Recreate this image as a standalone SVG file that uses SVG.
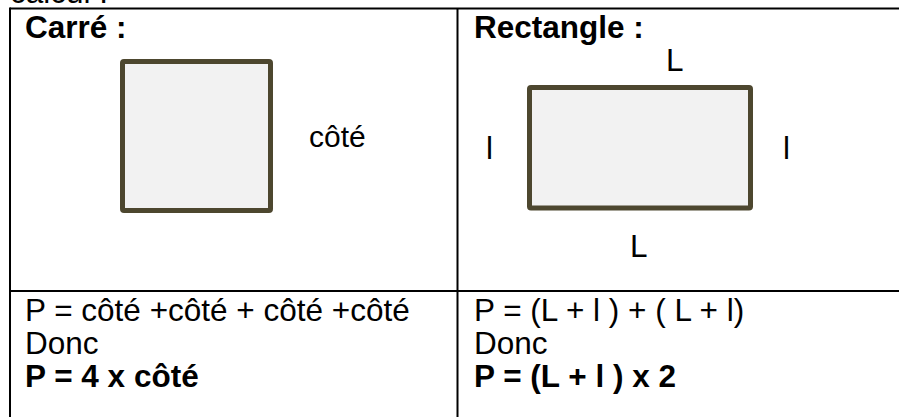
<svg xmlns="http://www.w3.org/2000/svg" width="899" height="417" viewBox="0 0 899 417">
  <style>
    text { font-family: "Liberation Sans", Arial, sans-serif; font-size: 31.5px; fill: #000; }
    .b { font-weight: bold; }
    .lbl { font-size: 30px; }
    .grid { stroke: #000; stroke-width: 2; fill: none; }
    .shape { fill: #f2f2f2; stroke: #4d472f; stroke-width: 5; }
  </style>
  <rect x="0" y="0" width="899" height="417" fill="#fff"/>
  <text x="10" y="3">calcul :</text>
  <g id="table-lines" class="grid">
    <line x1="10" y1="8.5" x2="899" y2="8.5"/>
    <line x1="10" y1="7.5" x2="10" y2="417"/>
    <line x1="457.5" y1="8.5" x2="457.5" y2="417"/>
    <line x1="10" y1="291" x2="899" y2="291"/>
  </g>
  <g id="carre">
    <text class="b" x="25" y="38">Carré :</text>
    <rect class="shape" x="122.5" y="61.5" width="148" height="149" rx="1.5"/>
    <text class="lbl" x="309" y="147">côté</text>
  </g>
  <g id="rectangle">
    <text class="b" x="474" y="38">Rectangle :</text>
    <rect class="shape" x="529.5" y="87.5" width="221" height="120.5" rx="1.5"/>
    <text x="666" y="71">L</text>
    <text x="630" y="257">L</text>
    <text x="486" y="159">l</text>
    <text x="783" y="159">l</text>
  </g>
  <g id="formule-carre">
    <text x="25" y="321">P = côté +côté + côté +côté</text>
    <text x="25" y="354">Donc</text>
    <text class="b" x="25" y="387">P = 4 x côté</text>
  </g>
  <g id="formule-rectangle">
    <text x="474" y="321">P = (L + l ) + ( L + l)</text>
    <text x="474" y="354">Donc</text>
    <text class="b" x="474" y="387">P = (L + l ) x 2</text>
  </g>
</svg>
